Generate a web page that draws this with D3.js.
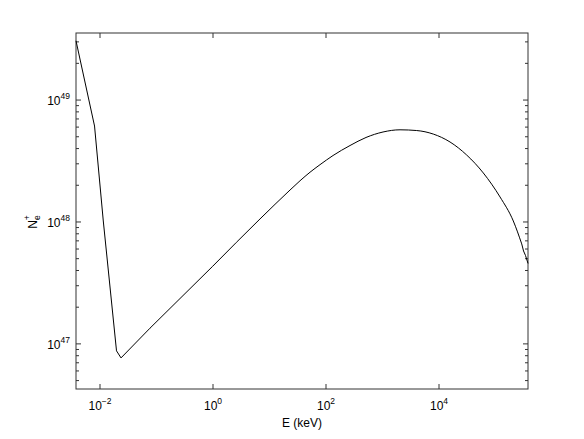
<!DOCTYPE html>
<html>
<head>
<meta charset="utf-8">
<script src="https://cdn.jsdelivr.net/npm/d3@7"></script>
<style>
  body { margin: 0; background: #fff; }
  text { font-family: "Liberation Sans", Arial, sans-serif; fill: #000; }
</style>
</head>
<body>
<svg width="584" height="439"></svg>
<script>
// log10 of energy (keV) and log10 of positron number
var logE = [-2.425, -2.097, -1.942, -1.708, -1.628, -1.115, -0.005, 0.832, 1.363,
  1.540, 1.717, 1.894, 2.124, 2.425, 2.708, 3.009, 3.310, 3.605, 3.899, 4.195,
  4.490, 4.784, 5.080, 5.315, 5.464, 5.496, 5.531, 5.575];
var logN = [49.486, 48.787, 48.008, 46.943, 46.885, 47.129, 47.637, 48.025, 48.262,
  48.338, 48.408, 48.470, 48.545, 48.627, 48.693, 48.738, 48.756, 48.750, 48.721, 48.656,
  48.549, 48.402, 48.205, 48.008, 47.820, 47.762, 47.725, 47.660];

var xTickExp = [-2, 0, 2, 4];
var yTickExp = [47, 48, 49];

var svg = d3.select("svg"),
  margin = {left: 76, right: 56, top: 33, bottom: 50},
  width = +svg.attr("width") - margin.left - margin.right,
  height = +svg.attr("height") - margin.top - margin.bottom;

var x = d3.scaleLog().domain([Math.pow(10, -2.425), Math.pow(10, 5.575)]).range([0, width]);
var y = d3.scaleLog().domain([Math.pow(10, 46.63), Math.pow(10, 49.55)]).range([height, 0]);

var g = svg.append("g").attr("transform", "translate(" + margin.left + "," + margin.top + ")");

var data = logE.map(function(e, i) {
  return {e: Math.pow(10, e), n: Math.pow(10, logN[i])};
});

// minor y ticks 2..9 x 10^k
var yMinor = [];
for (var k = 46; k <= 49; k++) {
  for (var m = 2; m <= 9; m++) {
    var v = m * Math.pow(10, k);
    if (v > y.domain()[0] && v < y.domain()[1]) yMinor.push(v);
  }
}
var xMajor = xTickExp.map(function(p) { return Math.pow(10, p); });
var yMajor = yTickExp.map(function(p) { return Math.pow(10, p); });

var axisColor = "#333";

// ticks drawn inward on all four sides
function vTicks(vals, len) {
  vals.forEach(function(v) {
    g.append("line").attr("x1", x(v)).attr("x2", x(v)).attr("y1", height).attr("y2", height - len)
      .attr("stroke", axisColor);
    g.append("line").attr("x1", x(v)).attr("x2", x(v)).attr("y1", 0).attr("y2", len)
      .attr("stroke", axisColor);
  });
}
function hTicks(vals, len) {
  vals.forEach(function(v) {
    g.append("line").attr("y1", y(v)).attr("y2", y(v)).attr("x1", 0).attr("x2", len)
      .attr("stroke", axisColor);
    g.append("line").attr("y1", y(v)).attr("y2", y(v)).attr("x1", width).attr("x2", width - len)
      .attr("stroke", axisColor);
  });
}
vTicks(xMajor, 5);
hTicks(yMajor, 5);
hTicks(yMinor, 3);

g.append("rect")
  .attr("width", width).attr("height", height)
  .attr("fill", "none").attr("stroke", axisColor).attr("stroke-width", 1);

var lineLin = d3.line()
  .x(function(d) { return x(d.e); })
  .y(function(d) { return y(d.n); });
var lineSmooth = d3.line()
  .x(function(d) { return x(d.e); })
  .y(function(d) { return y(d.n); })
  .curve(d3.curveMonotoneX);

// sharp kinks at low energy, smooth hump afterwards
g.append("path")
  .datum(data.slice(0, 7))
  .attr("fill", "none").attr("stroke", "#000").attr("stroke-width", 1)
  .attr("d", lineLin);
g.append("path")
  .datum(data.slice(6, data.length - 3))
  .attr("fill", "none").attr("stroke", "#000").attr("stroke-width", 1)
  .attr("d", lineSmooth);
g.append("path")
  .datum(data.slice(data.length - 4))
  .attr("fill", "none").attr("stroke", "#000").attr("stroke-width", 1)
  .attr("d", lineLin);

// tick labels with superscript exponents
xTickExp.forEach(function(p) {
  var t = g.append("text")
    .attr("x", x(Math.pow(10, p)))
    .attr("y", height + 21)
    .attr("text-anchor", "middle")
    .style("font-size", "12px");
  t.append("tspan").text("10");
  t.append("tspan").attr("dy", -6).style("font-size", "8.5px").text(p < 0 ? "\u2212" + (-p) : p);
});

yTickExp.forEach(function(p) {
  var t = g.append("text")
    .attr("x", -6)
    .attr("y", y(Math.pow(10, p)) + 5)
    .attr("text-anchor", "end")
    .style("font-size", "12px");
  t.append("tspan").text("10");
  t.append("tspan").attr("dy", -6).style("font-size", "8.5px").text(p);
});

svg.append("text")
  .attr("x", margin.left + width / 2)
  .attr("y", 427)
  .attr("text-anchor", "middle")
  .style("font-size", "12px")
  .text("E (keV)");

var yl = svg.append("text")
  .attr("transform", "translate(37,222) rotate(-90)")
  .attr("text-anchor", "middle")
  .style("font-size", "12px");
yl.append("tspan").text("N");
yl.append("tspan").attr("dy", 3).style("font-size", "8.5px").text("e");
yl.append("tspan").attr("dx", -5).attr("dy", -10).style("font-size", "8.5px").text("+");
</script>
</body>
</html>
